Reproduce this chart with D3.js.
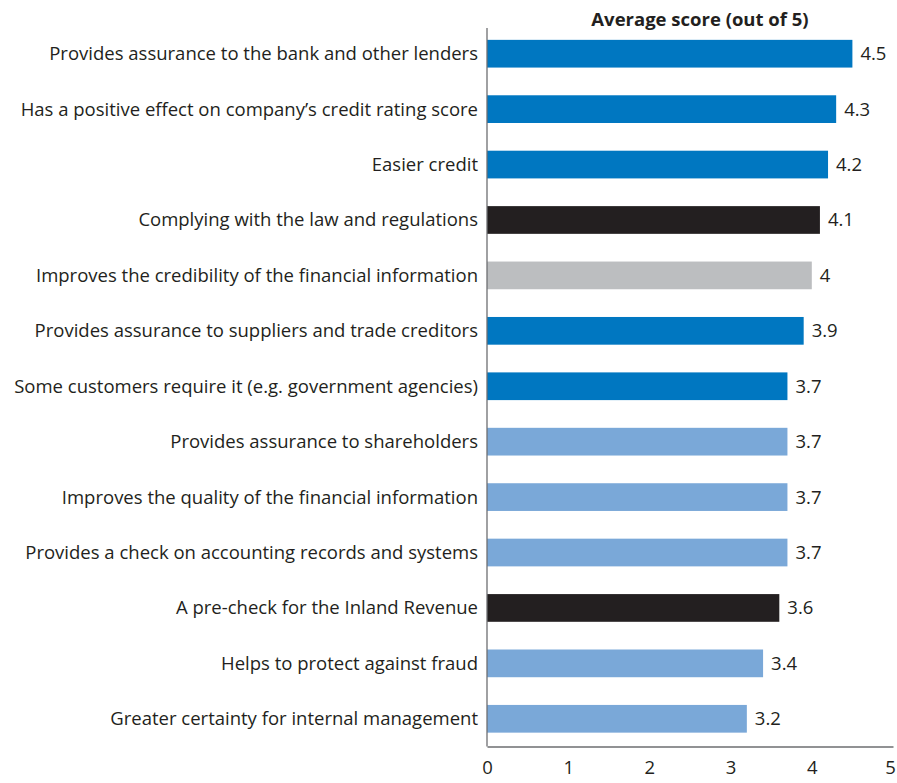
<!DOCTYPE html>
<html>
<head>
<meta charset="utf-8">
<script src="https://cdn.jsdelivr.net/npm/d3@7"></script>
<style>
  body { margin: 0; background: #fff; }
  text { font-family: "Open Sans", "Noto Sans", sans-serif; fill: #231f20; }
</style>
</head>
<body>
<script>
// chart data
const categories = [
  "Provides assurance to the bank and other lenders",
  "Has a positive effect on company\u2019s credit rating score",
  "Easier credit",
  "Complying with the law and regulations",
  "Improves the credibility of the financial information",
  "Provides assurance to suppliers and trade creditors",
  "Some customers require it (e.g. government agencies)",
  "Provides assurance to shareholders",
  "Improves the quality of the financial information",
  "Provides a check on accounting records and systems",
  "A pre-check for the Inland Revenue",
  "Helps to protect against fraud",
  "Greater certainty for internal management"
];
const scores = [4.5, 4.3, 4.2, 4.1, 4, 3.9, 3.7, 3.7, 3.7, 3.7, 3.6, 3.4, 3.2];
const groups = ["lender", "lender", "lender", "legal", "info", "lender", "lender",
                "other", "other", "other", "legal", "other", "other"];
const xTicks = [0, 1, 2, 3, 4, 5];

const colour = d3.scaleOrdinal()
  .domain(["lender", "legal", "info", "other"])
  .range(["#0077c1", "#231f20", "#bcbec0", "#7aa8d8"]);

const canvWidth = 897, canvHeight = 783;
const svg = d3.select("body").append("svg")
  .attr("width", canvWidth)
  .attr("height", canvHeight);

const x0 = 487, x1 = 893;
const yTop = 26, yBottom = 746.5;

const xScale = d3.scaleLinear().domain([0, 5]).range([x0, x1]);
const yScale = d3.scaleBand().domain(categories).range([yTop, yBottom])
  .paddingInner(0.5).paddingOuter(0.25);

// bars
svg.selectAll("rect.bar")
  .data(categories)
  .enter().append("rect")
  .attr("class", "bar")
  .attr("x", xScale(0))
  .attr("y", d => yScale(d))
  .attr("width", (d, i) => xScale(scores[i]) - xScale(0))
  .attr("height", yScale.bandwidth())
  .attr("fill", (d, i) => colour(groups[i]));

// value labels
svg.selectAll("text.val")
  .data(categories)
  .enter().append("text")
  .attr("class", "val")
  .attr("x", (d, i) => xScale(scores[i]) + 8)
  .attr("y", d => yScale(d) + yScale.bandwidth() / 2)
  .attr("dy", "0.35em")
  .attr("font-size", "18.5px")
  .text((d, i) => scores[i]);

// category labels
svg.selectAll("text.cat")
  .data(categories)
  .enter().append("text")
  .attr("class", "cat")
  .attr("x", 478)
  .attr("y", d => yScale(d) + yScale.bandwidth() / 2)
  .attr("dy", "0.35em")
  .attr("text-anchor", "end")
  .attr("font-size", "18.5px")
  .text(d => d);

// x axis
const xAxis = d3.axisBottom(xScale).tickValues(xTicks).tickFormat(d3.format("d"))
  .tickSize(0).tickPadding(14);
const gx = svg.append("g")
  .attr("transform", "translate(0," + yBottom + ")")
  .call(xAxis);
gx.select(".domain").attr("stroke", "#6d6e71").attr("stroke-width", 1.3);
gx.selectAll("text")
  .attr("font-size", "18.5px")
  .attr("font-family", "Open Sans, Noto Sans, sans-serif")
  .attr("fill", "#231f20");
// keep the last tick label inside the page
gx.selectAll(".tick text").filter(d => d === 5).attr("dx", -3);

// y axis line
svg.append("line")
  .attr("x1", x0).attr("x2", x0)
  .attr("y1", yTop + 2).attr("y2", yBottom)
  .attr("stroke", "#6d6e71")
  .attr("stroke-width", 1.3);

// title
svg.append("text")
  .attr("x", 700)
  .attr("y", 26)
  .attr("text-anchor", "middle")
  .attr("font-size", "18.5px")
  .attr("font-weight", "bold")
  .text("Average score (out of 5)");
</script>
</body>
</html>
